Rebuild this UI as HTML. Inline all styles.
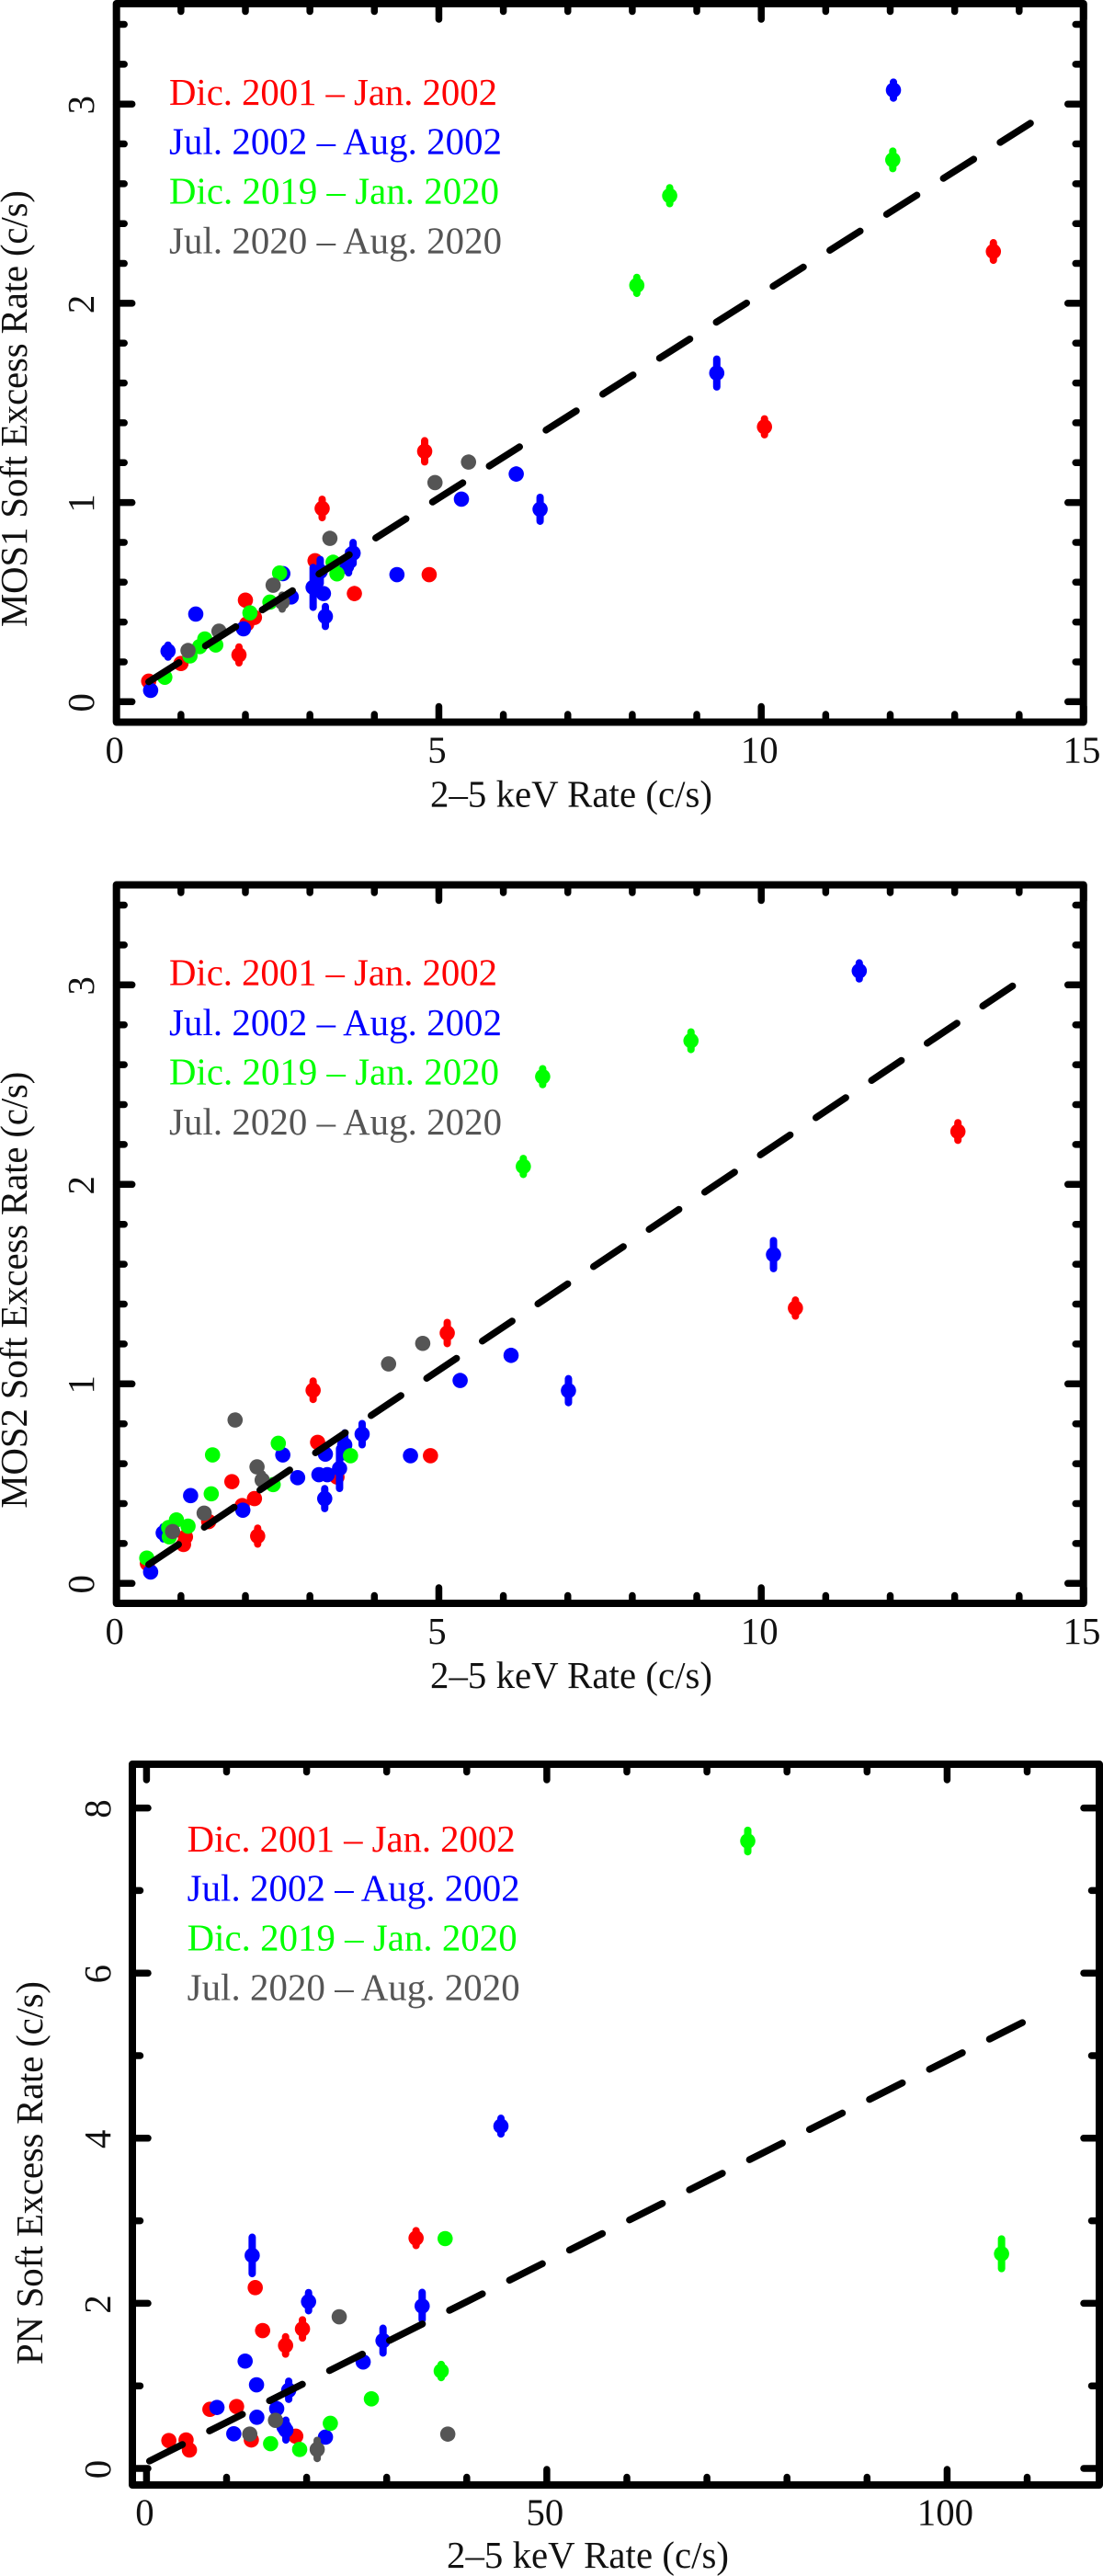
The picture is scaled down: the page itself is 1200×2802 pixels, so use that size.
<!DOCTYPE html>
<html lang="en">
<head>
<meta charset="utf-8">
<title>Soft Excess Rate vs 2-5 keV Rate</title>
<style>
html,body{margin:0;padding:0;background:#fff;width:1200px;height:2802px;overflow:hidden}
svg{display:block}
text{font-family:"Liberation Serif","Times New Roman",serif;font-size:40.8px;fill:#111}
.frame{fill:none;stroke:#000;stroke-width:8;stroke-linejoin:round}
.tick{stroke:#000;stroke-width:7.5;stroke-linecap:round}
.err{stroke-width:8;stroke-linecap:round}
.fit{stroke:#000;stroke-width:7.5;stroke-linecap:round;fill:none}
</style>
</head>
<body>
<svg id="chart" xmlns="http://www.w3.org/2000/svg" width="1200" height="2802" viewBox="0 0 1200 2802">
  <g id="panel-mos1"></g>
  <g id="panel-mos2"></g>
  <g id="panel-pn"></g>

  <g>
    <text transform="translate(29,682) rotate(-90)" textLength="475">MOS1 Soft Excess Rate (c/s)</text>
    <text x="468" y="877.3" textLength="307">2–5 keV Rate (c/s)</text>
    <text x="184" y="114" textLength="357" style="fill:#ff0000">Dic. 2001 – Jan. 2002</text>
    <text x="184" y="167.7" textLength="362" style="fill:#0000ff">Jul. 2002 – Aug. 2002</text>
    <text x="184" y="221.6" textLength="359" style="fill:#00ff00">Dic. 2019 – Jan. 2020</text>
    <text x="184" y="275.6" textLength="362" style="fill:#555555">Jul. 2020 – Aug. 2020</text>
  </g>
  <g>
    <text transform="translate(29,1640.6) rotate(-90)" textLength="475">MOS2 Soft Excess Rate (c/s)</text>
    <text x="468" y="1835.8" textLength="307">2–5 keV Rate (c/s)</text>
    <text x="184" y="1071.5" textLength="357" style="fill:#ff0000">Dic. 2001 – Jan. 2002</text>
    <text x="184" y="1125.8" textLength="362" style="fill:#0000ff">Jul. 2002 – Aug. 2002</text>
    <text x="184" y="1179.7" textLength="359" style="fill:#00ff00">Dic. 2019 – Jan. 2020</text>
    <text x="184" y="1234" textLength="362" style="fill:#555555">Jul. 2020 – Aug. 2020</text>
  </g>
  <g>
    <text transform="translate(46,2572) rotate(-90)" textLength="417">PN Soft Excess Rate (c/s)</text>
    <text x="486" y="2793" textLength="307">2–5 keV Rate (c/s)</text>
    <text x="203.6" y="2014" textLength="357" style="fill:#ff0000">Dic. 2001 – Jan. 2002</text>
    <text x="203.6" y="2067.6" textLength="362" style="fill:#0000ff">Jul. 2002 – Aug. 2002</text>
    <text x="203.6" y="2121.5" textLength="359" style="fill:#00ff00">Dic. 2019 – Jan. 2020</text>
    <text x="203.6" y="2175.6" textLength="362" style="fill:#555555">Jul. 2020 – Aug. 2020</text>
  </g>
</svg>
<script>
// ---- MOS1 data ----
const mos1RedX  = [0.50,1.00,2.00,1.90,2.14,2.02,3.19,3.08,3.69,4.85,4.78,10.05,13.60];
const mos1RedY  = [0.103,0.192,0.51,0.235,0.423,0.39,0.97,0.708,0.543,0.638,1.257,1.38,2.26];
const mos1RedE  = [0,0,0,0.04,0,0,0.046,0,0.02,0,0.053,0.04,0.044];
const mos1BlueX = [0.53,0.80,1.23,1.97,2.58,2.71,3.05,3.21,3.16,3.24,3.57,3.67,3.60,4.35,5.35,6.20,6.57,9.31,12.05];
const mos1BlueY = [0.057,0.254,0.44,0.366,0.643,0.526,0.574,0.543,0.654,0.428,0.68,0.746,0.70,0.638,1.017,1.143,0.966,1.65,3.07];
const mos1BlueE = [0,0.03,0,0,0,0,0.10,0,0.06,0.05,0.02,0.053,0.053,0,0,0.02,0.06,0.07,0.04];
const mos1GreenX = [0.75,1.14,1.29,1.37,1.54,2.07,2.38,2.53,3.36,3.42,8.07,8.58,12.04];
const mos1GreenY = [0.123,0.23,0.277,0.315,0.285,0.446,0.50,0.646,0.70,0.642,2.09,2.54,2.72];
const mos1GreenE = [0,0,0,0,0,0,0,0,0,0,0.04,0.04,0.044];
const mos1GrayX = [1.11,1.59,2.43,2.57,3.31,4.94,5.46];
const mos1GrayY = [0.257,0.354,0.585,0.50,0.82,1.10,1.203];
const mos1GrayE = [0,0,0,0.035,0,0,0];
const mos1FitX = [0.5,14.18];
const mos1FitY = [0.1,2.905];

// ---- MOS2 data ----
const mos2RedX  = [0.48,1.04,1.07,1.43,1.79,1.95,2.14,2.19,3.05,3.12,3.42,4.87,5.13,10.53,13.05];
const mos2RedY  = [0.10,0.195,0.233,0.31,0.51,0.39,0.425,0.237,0.968,0.707,0.533,0.64,1.255,1.38,2.265];
const mos2RedE  = [0,0,0,0,0,0,0,0.04,0.046,0,0,0,0.053,0.04,0.044];
const mos2BlueX = [0.53,0.725,1.15,1.96,2.58,2.81,3.14,3.27,3.24,3.23,3.46,3.54,3.81,4.56,5.33,6.12,7.01,10.19,11.52];
const mos2BlueY = [0.057,0.253,0.44,0.367,0.644,0.53,0.545,0.545,0.648,0.425,0.576,0.694,0.748,0.64,1.017,1.143,0.966,1.648,3.07];
const mos2BlueE = [0,0.03,0,0,0,0,0,0,0,0.05,0.10,0.06,0.053,0,0,0.02,0.06,0.07,0.04];
const mos2GreenX = [0.47,0.82,0.81,0.93,1.11,1.47,1.49,2.43,2.51,3.63,6.31,6.61,8.91];
const mos2GreenY = [0.127,0.233,0.28,0.318,0.287,0.449,0.644,0.495,0.702,0.64,2.09,2.54,2.72];
const mos2GreenE = [0,0,0,0,0,0,0,0,0,0,0.04,0.04,0.044];
const mos2GrayX = [0.87,1.36,2.18,2.26,1.84,4.22,4.75];
const mos2GrayY = [0.26,0.352,0.584,0.518,0.819,1.10,1.203];
const mos2GrayE = [0,0,0,0.03,0,0,0];
const mos2FitX = [0.5,13.9];
const mos2FitY = [0.095,2.995];

// ---- PN data ----
const pnRedX  = [2.79,4.94,5.36,7.92,11.25,13.09,14.50,17.37,19.48,18.64,13.58,33.67];
const pnRedY  = [0.338,0.345,0.223,0.716,0.75,0.345,1.67,1.49,1.69,0.39,2.19,2.79];
const pnRedE  = [0,0,0,0,0,0,0,0.105,0.11,0,0,0.09];
const pnBlueX = [8.80,12.32,13.74,10.90,13.78,16.26,17.18,17.41,17.76,22.35,27.06,29.54,13.20,20.24,34.43,44.27];
const pnBlueY = [0.739,1.30,1.013,0.42,0.62,0.724,0.50,0.464,0.947,0.379,1.29,1.548,2.58,2.02,1.967,4.146];
const pnBlueE = [0,0,0,0,0,0.05,0.07,0.12,0.11,0,0,0.15,0.22,0.11,0.165,0.095];
const pnGreenX = [15.50,19.13,22.96,28.09,36.81,37.30,75.10,106.80];
const pnGreenY = [0.30,0.23,0.546,0.843,1.18,2.784,7.60,2.60];
const pnGreenE = [0,0,0,0,0.08,0.03,0.13,0.18];
const pnGrayX = [12.90,16.11,21.32,24.07,37.63];
const pnGrayY = [0.416,0.583,0.23,1.837,0.416];
const pnGrayE = [0,0,0.11,0,0];
const pnFitX = [0.38,109.4];
const pnFitY = [0.09,5.40];

// ---- tick values ----
const mos1XMajor = [0,5,10,15];
const mos1XMinor = [1,2,3,4,6,7,8,9,11,12,13,14];
const mos1YMajor = [0,1,2,3];
const mos1YMinor = [0.2,0.4,0.6,0.8,1.2,1.4,1.6,1.8,2.2,2.4,2.6,2.8,3.2,3.4];
const pnXMajor = [0,50,100];
const pnXMinor = [10,20,30,40,60,70,80,90,110];
const pnYMajor = [0,2,4,6,8];
const pnYMinor = [1,3,5,7];

const NS = 'http://www.w3.org/2000/svg';
const COLORS = {red:'#ff0000', blue:'#0000ff', green:'#00ff00', gray:'#555555'};

function svgEl(tag, attrs, parent){
  const el = document.createElementNS(NS, tag);
  for (const k in attrs) el.setAttribute(k, attrs[k]);
  parent.appendChild(el);
  return el;
}

function drawSeries(g, prefix, colorName, xs, ys, es, sx, sy){
  const color = COLORS[colorName];
  for (let i = 0; i < xs.length; i++){
    const cx = sx(xs[i]), cy = sy(ys[i]);
    if (es[i] > 0){
      const bar = svgEl('line', {x1:cx, x2:cx, y1:sy(ys[i]-es[i]), y2:sy(ys[i]+es[i]), stroke:color, 'class':'err'}, g);
      
      
    }
    const dot = svgEl('circle', {cx:cx, cy:cy, r:8.3, fill:color}, g);
    
    
  }
}

function drawPanel(p){
  const g = document.getElementById(p.id);
  const sx = v => p.x0 + v * p.ux;
  const sy = v => p.y0 - v * p.uy;

  const box = svgEl('rect', {x:p.left, y:p.top, width:p.right-p.left, height:p.bottom-p.top, 'class':'frame'}, g);
  
  

  function xTicks(vals, len, kind){
    vals.forEach(v => {
      const x = sx(v);
      const b = svgEl('line', {x1:x, x2:x, y1:p.bottom, y2:p.bottom-len, 'class':'tick'}, g);
      
      
      const t = svgEl('line', {x1:x, x2:x, y1:p.top, y2:p.top+len, 'class':'tick'}, g);
      
      
    });
  }
  function yTicks(vals, len, kind){
    vals.forEach(v => {
      const y = sy(v);
      const l = svgEl('line', {x1:p.left, x2:p.left+len, y1:y, y2:y, 'class':'tick'}, g);
      
      
      const r = svgEl('line', {x1:p.right, x2:p.right-len, y1:y, y2:y, 'class':'tick'}, g);
      
      
    });
  }
  xTicks(p.xMajor, 17, 'major');
  xTicks(p.xMinor, 8.5, 'minor');
  yTicks(p.yMajor, 17, 'major');
  yTicks(p.yMinor, 8.5, 'minor');

  p.xMajor.forEach(v => {
    const t = svgEl('text', {x:sx(v)-2, y:p.xLabelY, 'text-anchor':'middle'}, g);
    t.textContent = String(v);
    
    
  });
  p.yMajor.forEach(v => {
    const t = svgEl('text', {transform:'translate(' + p.yLabelX + ',' + (sy(v)+1) + ') rotate(-90)', 'text-anchor':'middle'}, g);
    t.textContent = String(v);
    
    
  });

  p.series.forEach(s => drawSeries(g, p.name, s[0], s[1], s[2], s[3], sx, sy));

  const fit = svgEl('line', {x1:sx(p.fitX[0]), y1:sy(p.fitY[0]), x2:sx(p.fitX[1]), y2:sy(p.fitY[1]), 'class':'fit', 'stroke-dasharray':p.dash}, g);
  
  
}

drawPanel({
  id:'panel-mos1', name:'mos1',
  left:126.7, right:1178.7, top:4, bottom:785.5,
  x0:126.7, ux:70.15, y0:763.3, uy:216.7,
  xLabelY:829.5, yLabelX:102,
  xMajor:mos1XMajor, xMinor:mos1XMinor, yMajor:mos1YMajor, yMinor:mos1YMinor,
  fitX:mos1FitX, fitY:mos1FitY, dash:'39 34.1',
  series:[['red',mos1RedX,mos1RedY,mos1RedE],['blue',mos1BlueX,mos1BlueY,mos1BlueE],['green',mos1GreenX,mos1GreenY,mos1GreenE],['gray',mos1GrayX,mos1GrayY,mos1GrayE]]
});
drawPanel({
  id:'panel-mos2', name:'mos2',
  left:126.7, right:1178.7, top:962.5, bottom:1744,
  x0:126.7, ux:70.15, y0:1722.3, uy:217,
  xLabelY:1788.2, yLabelX:102,
  xMajor:mos1XMajor, xMinor:mos1XMinor, yMajor:mos1YMajor, yMinor:mos1YMinor,
  fitX:mos2FitX, fitY:mos2FitY, dash:'39 33.8',
  series:[['red',mos2RedX,mos2RedY,mos2RedE],['blue',mos2BlueX,mos2BlueY,mos2BlueE],['green',mos2GreenX,mos2GreenY,mos2GreenE],['gray',mos2GrayX,mos2GrayY,mos2GrayE]]
});
drawPanel({
  id:'panel-pn', name:'pn',
  left:144, right:1196, top:1919, bottom:2703,
  x0:159.4, ux:8.71, y0:2685, uy:89.8,
  xLabelY:2746.5, yLabelX:120,
  xMajor:pnXMajor, xMinor:pnXMinor, yMajor:pnYMajor, yMinor:pnYMinor,
  fitX:pnFitX, fitY:pnFitY, dash:'40 33.04',
  series:[['red',pnRedX,pnRedY,pnRedE],['blue',pnBlueX,pnBlueY,pnBlueE],['green',pnGreenX,pnGreenY,pnGreenE],['gray',pnGrayX,pnGrayY,pnGrayE]]
});
</script>
</body>
</html>
